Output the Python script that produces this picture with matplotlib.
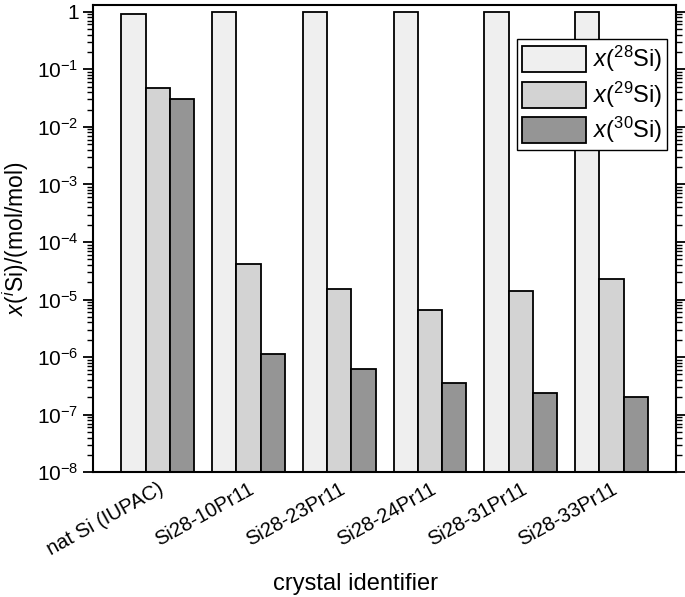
import numpy as np
import matplotlib
matplotlib.use("Agg")
import matplotlib.pyplot as plt
from matplotlib.ticker import FixedLocator, LogLocator, NullFormatter

# isotope amount fractions
crystals = ["nat Si (IUPAC)", "Si28-10Pr11", "Si28-23Pr11", "Si28-24Pr11", "Si28-31Pr11", "Si28-33Pr11"]
x28 = [0.9223, 0.99996, 0.99998, 0.99999, 0.99998, 0.99998]
x29 = [0.04685, 4.1e-5, 1.5e-5, 6.5e-6, 1.4e-5, 2.3e-5]
x30 = [0.03092, 1.1e-6, 6.0e-7, 3.5e-7, 2.3e-7, 1.9e-7]
series_labels = [r"$x$($^{28}$Si)", r"$x$($^{29}$Si)", r"$x$($^{30}$Si)"]
colors = ["#efefef", "#d3d3d3", "#959595"]

plt.rcParams["font.family"] = ["Liberation Sans", "DejaVu Sans"]
plt.rcParams["mathtext.fontset"] = "custom"
plt.rcParams["mathtext.rm"] = "Liberation Sans"
plt.rcParams["mathtext.it"] = "Liberation Sans:italic"

fig = plt.figure(figsize=(6.85, 5.97), dpi=100)
ax = fig.add_axes([0.136, 0.209, 0.851, 0.783])

idx = np.arange(len(crystals))
w = 0.2667
for k, vals in enumerate([x28, x29, x30]):
    ax.bar(idx + (k - 1) * w, vals, width=w, bottom=1e-8, color=colors[k],
           edgecolor="black", linewidth=1.3, label=series_labels[k], zorder=2)

ax.set_yscale("log")
ax.set_ylim(1e-8, 1.32)
ax.set_xlim(-0.711, len(crystals) - 1 + 0.711)

majors = [10.0 ** e for e in range(-8, 1)]
ax.yaxis.set_major_locator(FixedLocator(majors))
ax.set_yticklabels([r"$10^{%d}$" % e for e in range(-8, 0)] + ["1"])
ax.yaxis.set_minor_locator(LogLocator(base=10, subs=np.arange(2, 10), numticks=20))
ax.yaxis.set_minor_formatter(NullFormatter())
ax.tick_params(axis="y", which="major", length=7, width=1.3, labelsize=15, right=True, direction="out")
ax.tick_params(axis="y", which="minor", length=4, width=1.0, right=True, direction="out")

ax.set_xticks(idx)
ax.set_xticklabels(crystals, rotation=29, ha="right", rotation_mode="anchor", fontsize=14.5)
ax.tick_params(axis="x", length=0, pad=5)

for s in ax.spines.values():
    s.set_linewidth(1.5)

ax.set_ylabel(r"$x$($^{i}$Si)/(mol/mol)", fontsize=16.5, labelpad=4)
ax.set_xlabel("crystal identifier", fontsize=17, va="center")
ax.xaxis.set_label_coords(0.45, -0.24)

leg = ax.legend(loc="upper right", bbox_to_anchor=(0.985, 0.927), fontsize=17,
                handlelength=2.7, handleheight=1.3, labelspacing=0.22,
                handletextpad=0.3, borderpad=0.22, borderaxespad=0.0,
                fancybox=False, framealpha=1)
leg.get_frame().set_edgecolor("black")
leg.get_frame().set_linewidth(1.0)

fig.savefig("out.png", dpi=100)
